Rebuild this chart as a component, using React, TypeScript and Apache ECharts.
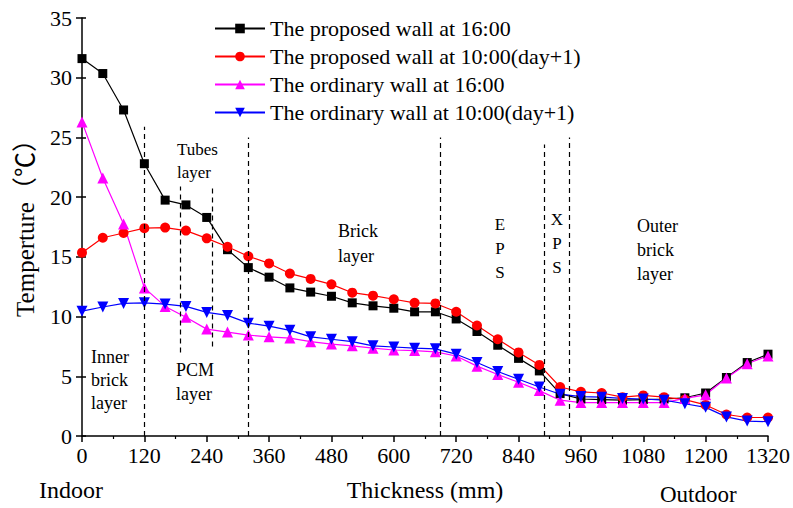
import React, { useEffect, useRef } from "react";
import * as echarts from "echarts";

const FONT = "'Liberation Serif', 'Times New Roman', 'Noto Sans CJK SC', serif";

const thickness = [0, 40, 80, 120, 160, 200, 240, 280, 320, 360, 400, 440, 480, 520, 560, 600, 640, 680, 720, 760, 800, 840, 880, 920, 960, 1000, 1040, 1080, 1120, 1160, 1200, 1240, 1280, 1320];

const proposed16 = [31.6, 30.35, 27.3, 22.8, 19.75, 19.35, 18.3, 15.6, 14.1, 13.3, 12.4, 12.05, 11.7, 11.15, 10.9, 10.7, 10.4, 10.4, 9.8, 8.75, 7.6, 6.5, 5.45, 3.55, 3.1, 3.05, 3.0, 3.05, 3.1, 3.2, 3.6, 4.9, 6.15, 6.85];
const proposed10 = [15.35, 16.6, 17.0, 17.4, 17.45, 17.2, 16.55, 15.85, 15.05, 14.45, 13.6, 13.15, 12.7, 12.0, 11.75, 11.45, 11.15, 11.1, 10.4, 9.25, 8.1, 7.0, 5.95, 4.1, 3.7, 3.6, 3.25, 3.4, 3.25, 3.05, 2.6, 1.8, 1.55, 1.55];
const ordinary16 = [26.3, 21.6, 17.75, 12.4, 10.85, 9.95, 8.95, 8.7, 8.45, 8.3, 8.2, 7.9, 7.7, 7.55, 7.35, 7.2, 7.15, 7.05, 6.7, 5.85, 5.15, 4.5, 3.8, 3.0, 2.8, 2.8, 2.8, 2.8, 2.8, 3.15, 3.45, 4.85, 6.05, 6.7];
const ordinary10 = [10.45, 10.8, 11.1, 11.15, 11.05, 10.85, 10.35, 10.1, 9.45, 9.2, 8.85, 8.3, 8.1, 7.9, 7.55, 7.45, 7.35, 7.3, 6.85, 6.15, 5.4, 4.75, 4.1, 3.5, 3.3, 3.25, 3.15, 3.1, 3.0, 2.7, 2.4, 1.6, 1.25, 1.2];

const seriesNames = [
  "The proposed wall at 16:00",
  "The proposed wall at 10:00(day+1)",
  "The ordinary wall at 16:00",
  "The ordinary wall at 10:00(day+1)",
];

// layer boundaries (mm) and the temperature span of each dashed line
const boundaryX = [120, 190, 250, 320, 690, 890, 937];
const boundaryFrom = [0, 7.0, 7.5, 0, 0, 0, 0];
const boundaryTo = [25.9, 20.9, 20.9, 25.0, 25.0, 24.4, 25.0];

const xTicks = { min: 0, max: 1320, interval: 120 };
const yTicks = { min: 0, max: 35, interval: 5 };

export default function App() {
  const ref = useRef<HTMLDivElement>(null);
  useEffect(() => {
    if (!ref.current) return;
    const chart = echarts.init(ref.current, undefined, { renderer: "svg" });
    const pts = (vals: number[]) => thickness.map((x, i) => [x, vals[i]]);
    const annText = (text: string, x: number, y: number, size: number, lh: number, align = "left") => ({
      type: "text",
      x,
      y,
      style: {
        text,
        fontSize: size,
        fontFamily: FONT,
        fill: "#000",
        lineHeight: lh,
        align,
        verticalAlign: "middle",
      },
    });
    const option: any = {
      animation: false,
      backgroundColor: "#fff",
      textStyle: { fontFamily: FONT, color: "#000" },
      grid: { left: 82, right: 22, top: 18, bottom: 72, containLabel: false },
      legend: {
        orient: "vertical",
        left: 209,
        top: 12,
        itemWidth: 50,
        itemHeight: 12,
        itemGap: 5,
        textStyle: { fontSize: 22, fontFamily: FONT, color: "#000", lineHeight: 23 },
        data: seriesNames,
      },
      xAxis: {
        type: "value",
        min: xTicks.min,
        max: xTicks.max,
        interval: xTicks.interval,
        name: "Thickness (mm)",
        nameLocation: "middle",
        nameGap: 42,
        nameTextStyle: { fontSize: 24, fontFamily: FONT, color: "#000" },
        axisLine: { onZero: false, lineStyle: { color: "#000", width: 1.5 } },
        axisTick: { length: 6, lineStyle: { color: "#000", width: 1.5 } },
        minorTick: { show: true, splitNumber: 2, length: 3, lineStyle: { color: "#000", width: 1.2 } },
        axisLabel: { fontSize: 22, fontFamily: FONT, color: "#000", margin: 8, formatter: (v: number) => String(v) },
        splitLine: { show: false },
      },
      yAxis: [
        {
          type: "value",
          min: yTicks.min,
          max: yTicks.max,
          interval: yTicks.interval,
          name: "Temperture（℃）",
          nameLocation: "middle",
          nameGap: 44,
          nameTextStyle: { fontSize: 25, fontFamily: FONT, color: "#000", padding: [0, 0, 0, 10] },
          axisLine: { show: true, lineStyle: { color: "#000", width: 1.5 } },
          axisTick: { show: true, length: 6, lineStyle: { color: "#000", width: 1.5 } },
          axisLabel: { fontSize: 22, fontFamily: FONT, color: "#000", margin: 10, formatter: (v: number) => String(v) },
          splitLine: { show: false },
        },
        {
          type: "value",
          position: "left",
          min: yTicks.min,
          max: yTicks.max,
          interval: yTicks.interval,
          axisLine: { show: false },
          axisTick: { show: true, inside: true, length: 4, lineStyle: { color: "#000", width: 1.5 } },
          axisLabel: { show: false },
          splitLine: { show: false },
        },
      ],
      series: [
        {
          name: seriesNames[0],
          type: "line",
          data: pts(proposed16),
          symbol: "rect",
          symbolSize: 9,
          color: "#000000",
          lineStyle: { width: 1.2, color: "#000000" },
          markLine: {
            silent: true,
            symbol: ["none", "none"],
            label: { show: false },
            lineStyle: { type: [5, 4], color: "#000", width: 1.2 },
            data: boundaryX.map((x, i) => [
              { coord: [x, boundaryFrom[i]] },
              { coord: [x, boundaryTo[i]] },
            ]),
          },
        },
        {
          name: seriesNames[1],
          type: "line",
          data: pts(proposed10),
          symbol: "circle",
          symbolSize: 10,
          color: "#ff0000",
          lineStyle: { width: 1.2, color: "#ff0000" },
        },
        {
          name: seriesNames[2],
          type: "line",
          data: pts(ordinary16),
          symbol: "triangle",
          symbolSize: 11,
          color: "#ff00ff",
          lineStyle: { width: 1.2, color: "#ff00ff" },
        },
        {
          name: seriesNames[3],
          type: "line",
          data: pts(ordinary10),
          symbol: "triangle",
          symbolRotate: 180,
          symbolSize: 11,
          color: "#0000ff",
          lineStyle: { width: 1.2, color: "#0000ff" },
        },
      ],
      graphic: [
        annText("Inner\nbrick\nlayer", 91, 380, 18, 23),
        annText("PCM\nlayer", 176, 382, 18, 24),
        annText("Tubes\nlayer", 177, 161, 17, 23),
        annText("Brick\nlayer", 338, 243, 18, 25),
        annText("E\nP\nS", 500, 248, 17, 24, "center"),
        annText("X\nP\nS", 557, 243, 17, 24, "center"),
        annText("Outer\nbrick\nlayer", 637, 250, 18, 24),
        annText("Indoor", 39, 490, 24, 24),
        annText("Outdoor", 660, 494, 23, 23),
      ],
    };
    chart.setOption(option);
    return () => chart.dispose();
  }, []);
  return (
    <div
      ref={ref}
      style={{ position: "fixed", left: 0, top: 0, width: 793, height: 508, background: "#fff" }}
    />
  );
}
